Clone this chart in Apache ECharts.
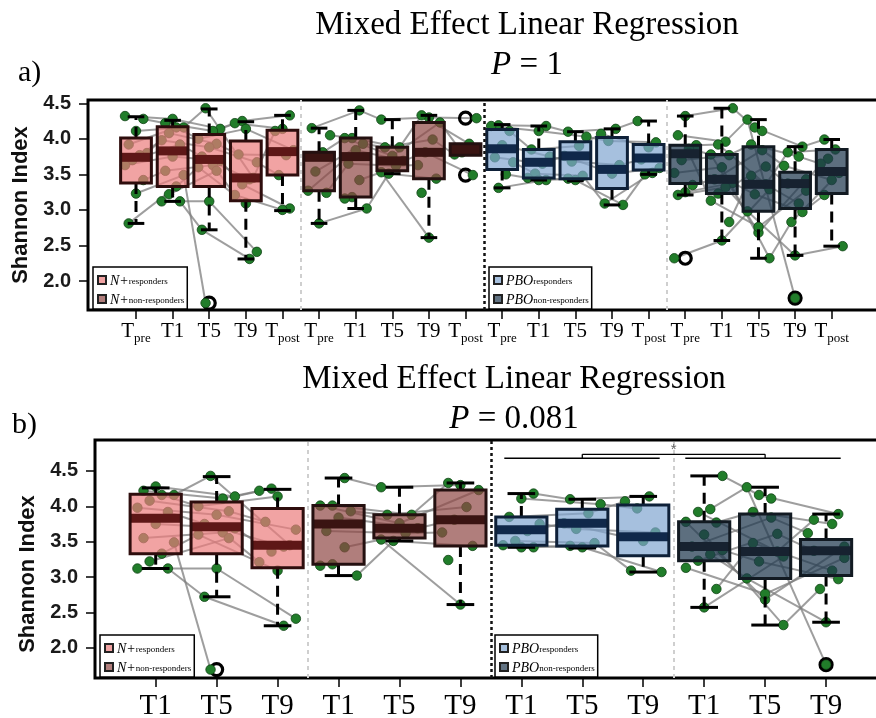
<!DOCTYPE html>
<html><head><meta charset="utf-8">
<script src="https://cdn.jsdelivr.net/npm/echarts@6/dist/echarts.min.js"></script>
<style>html,body{margin:0;padding:0;background:#fff}#c{width:876px;height:718px}</style>
</head><body><div id="c"></div>
<script>
// ---------------- DATA ----------------
const groupNames = ['N+ responders', 'N+ non-responders', 'PBO responders', 'PBO non-responders'];
const timepointsA = ['Tpre', 'T1', 'T5', 'T9', 'Tpost'];
const timepointsB = ['T1', 'T5', 'T9'];
const yTicks = [2.0, 2.5, 3.0, 3.5, 4.0, 4.5];
const titleA = 'P = 1';
const titleB = 'P = 0.081';

// box stats per timepoint (Tpre, T1, T5, T9, Tpost): [lower whisker, Q1, median, Q3, upper whisker]
const boxNResp = [[2.81, 3.38, 3.74, 4.01, 4.31], [3.12, 3.33, 3.83, 4.17, 4.26], [2.72, 3.33, 3.71, 4.06, 4.42], [2.31, 3.13, 3.45, 3.97, 4.24], [2.99, 3.49, 3.82, 4.12, 4.33]];
const boxNNon  = [[2.81, 3.27, 3.74, 3.81, 4.15], [3.02, 3.18, 3.75, 4.01, 4.40], [3.51, 3.55, 3.69, 3.88, 4.27], [2.61, 3.44, 3.81, 4.23, 4.33], [3.77, 3.77, 3.85, 3.93, 3.93]];
const boxPResp = [[3.31, 3.57, 3.86, 4.13, 4.20], [3.42, 3.45, 3.67, 3.85, 4.18], [3.41, 3.44, 3.76, 3.96, 4.10], [3.07, 3.30, 3.57, 4.02, 4.14], [3.50, 3.56, 3.73, 3.92, 4.25]];
const boxPNon  = [[3.21, 3.37, 3.79, 3.91, 4.32], [2.57, 3.23, 3.43, 3.78, 4.43], [2.32, 2.98, 3.36, 3.89, 4.27], [2.36, 3.02, 3.37, 3.53, 3.89], [2.49, 3.23, 3.54, 3.85, 3.99]];

// subject values per timepoint (rows: Tpre, T1, T5, T9, Tpost; same column = same subject)
const ptsNResp = [
  [4.32, 4.28, 4.11, 3.92, 3.80, 3.77, 3.70, 3.63, 3.42, 3.23, 2.81, null, null, null],
  [4.28, 4.22, 4.16, 4.16, 4.08, 3.98, 3.92, 3.75, 3.55, 3.49, 3.33, 3.22, 3.12, 3.12],
  [4.14, 4.11, 4.43, 4.00, 3.93, 3.88, 3.75, 3.69, 3.63, 1.69, 3.60, 3.55, 3.12, 2.72],
  [4.25, 4.22, 3.45, 4.14, 3.78, 3.67, 3.43, 3.36, 3.21, null, 3.09, null, 2.41, 2.31],
  [4.33, 4.14, 4.11, 3.84, 3.77, 3.49, null, 3.02, 3.00, null, null, null, null, null]
];
const ptsNNon = [
  [4.15, 4.05, 3.81, 3.54, 3.27, 3.24, 2.81, null, null, null],
  [4.40, 4.01, 4.01, 3.93, 3.84, 3.65, 3.02, 3.42, 3.18, 3.16],
  [4.27, 3.88, 3.76, 3.88, 3.69, 3.62, 3.51, 3.53, null, null],
  [4.30, 4.33, 4.23, 3.99, 3.81, 3.63, 3.44, 2.61, 3.24, null],
  [4.29, 3.93, 3.81, 3.78, 3.49, null, null, null, null, null]
];
const ptsPResp = [
  [4.19, 4.18, 4.11, 3.91, 3.74, 3.67, 3.50, 3.31, null],
  [4.18, 4.11, 3.85, 3.75, 3.65, 3.51, 3.45, 3.42, 3.42],
  [4.10, 4.03, 3.90, 3.68, 3.76, 3.48, 3.42, 3.44, null],
  [4.14, 3.97, 4.07, 3.63, 3.51, 3.09, 3.07, null, null],
  [4.25, 3.95, 3.88, 3.71, 3.59, 3.52, 3.50, null, null]
];
const ptsPNon = [
  [4.32, 4.05, 3.91, 3.86, 3.70, 3.52, 3.35, 3.25, 3.21, null, 3.80, null, 2.32, null],
  [4.43, 3.96, 3.92, 3.78, 3.77, 3.60, 3.43, 3.38, 3.32, 3.23, 3.13, 2.83, 2.57, null],
  [4.16, 4.27, 3.36, 2.68, 3.92, 2.32, 3.84, 3.22, 2.98, 3.61, 2.76, 3.48, 3.29, 4.11],
  [3.89, 1.76, 3.81, 3.43, 3.75, 2.83, 3.62, 2.97, 2.36, 3.37, 3.27, 3.09, null, null],
  [3.99, null, 3.85, 3.72, 3.65, 3.52, 3.42, 3.21, 2.49, null, null, null, null, null]
];

// outliers per timepoint
const outNResp = [[], [], [1.69], [], []];
const outNNon  = [[], [], [], [], [4.29, 3.49]];
const outPResp = [[], [], [], [], []];
const outPNon  = [[2.32], [], [], [1.76], []];

// ---------------- STYLE ----------------
const boxes = [boxNResp, boxNNon, boxPResp, boxPNon];
const points = [ptsNResp, ptsNNon, ptsPResp, ptsPNon];
const outliers = [outNResp, outNNon, outPResp, outPNon];
const groupStyle = [
  {fill: 'rgba(235,124,124,0.7)', median: '#5e1717', border: '#2e0d0d', legend: '#f1a3a3'},
  {fill: 'rgba(142,71,68,0.7)', median: '#3a1412', border: '#241010', legend: '#b07e7c'},
  {fill: 'rgba(128,165,208,0.7)', median: '#10284a', border: '#0e2038', legend: '#a6c0de'},
  {fill: 'rgba(31,55,78,0.72)', median: '#172230', border: '#121a22', legend: '#627383'}
];
const SERIF = 'Liberation Serif';
const SANS = 'Liberation Sans';
const BOX_W = 0.84;

// deterministic horizontal spread of points around their timepoint
function jit(i, t, g) { return ((i * 5 + t * 3 + g) % 7 - 3) / 3 * 0.3; }

const panels = [
  {times: [0, 1, 2, 3, 4], per: 5},
  {times: [1, 2, 3], per: 3}
];
function posOf(p, g, k) { return g * panels[p].per + k; }

function renderSeg(params, api) {
  const a = api.coord([api.value(0), api.value(1)]);
  const b = api.coord([api.value(2), api.value(3)]);
  return {type: 'line', shape: {x1: a[0], y1: a[1], x2: b[0], y2: b[1]},
    style: {stroke: 'rgba(125,125,125,0.75)', lineWidth: 2}};
}
function renderBracket(params, api) {
  const a = api.coord([api.value(0), api.value(1)]);
  const b = api.coord([api.value(2), api.value(3)]);
  return {type: 'line', shape: {x1: a[0], y1: a[1], x2: b[0], y2: b[1]},
    style: {stroke: '#000', lineWidth: 1.3}};
}
function renderBox(params, api) {
  const x = api.value(0);
  const st = groupStyle[api.value(6)];
  const pLow = api.coord([x, api.value(1)]);
  const pQ1 = api.coord([x, api.value(2)]);
  const pMed = api.coord([x, api.value(3)]);
  const pQ3 = api.coord([x, api.value(4)]);
  const pHigh = api.coord([x, api.value(5)]);
  const bw = api.size([BOX_W, 0])[0];
  const cx = pLow[0], half = bw / 2, cap = bw * 0.27;
  const wStyle = {stroke: '#000', lineWidth: 3, lineDash: [11, 7]};
  const sStyle = {stroke: '#000', lineWidth: 3};
  const ch = [];
  if (pLow[1] - pQ1[1] > 2) {
    ch.push({type: 'line', shape: {x1: cx, y1: pQ1[1], x2: cx, y2: pLow[1]}, style: wStyle});
    ch.push({type: 'line', shape: {x1: cx - cap, y1: pLow[1], x2: cx + cap, y2: pLow[1]}, style: sStyle});
  }
  if (pQ3[1] - pHigh[1] > 2) {
    ch.push({type: 'line', shape: {x1: cx, y1: pQ3[1], x2: cx, y2: pHigh[1]}, style: wStyle});
    ch.push({type: 'line', shape: {x1: cx - cap, y1: pHigh[1], x2: cx + cap, y2: pHigh[1]}, style: sStyle});
  }
  const rect = {x: cx - half, y: pQ3[1], width: bw, height: pQ1[1] - pQ3[1]};
  ch.push({type: 'rect', shape: rect, style: {fill: st.fill}});
  ch.push({type: 'rect', shape: {x: cx - half, y: pMed[1] - 4.5, width: bw, height: 9}, style: {fill: st.median}});
  ch.push({type: 'rect', shape: rect, style: {fill: 'none', stroke: st.border, lineWidth: 3}});
  return {type: 'group', children: ch};
}

const series = [];
panels.forEach((pc, p) => {
  const segs = [], pts = [], outs = [];
  for (let g = 0; g < 4; g++) {
    const P = points[g];
    const n = P[0].length;
    for (let i = 0; i < n; i++) {
      for (let k = 0; k < pc.times.length; k++) {
        const t = pc.times[k];
        const v = P[t][i];
        if (v == null) continue;
        pts.push([posOf(p, g, k) + jit(i, t, g), v]);
        if (k + 1 < pc.times.length) {
          const t2 = pc.times[k + 1];
          const v2 = P[t2][i];
          if (v2 != null) segs.push([posOf(p, g, k) + jit(i, t, g), v, posOf(p, g, k + 1) + jit(i, t2, g), v2]);
        }
      }
    }
    pc.times.forEach((t, k) => outliers[g][t].forEach(v => outs.push([posOf(p, g, k), v])));
  }
  const seps = p === 0 ? [4.5, 9.5, 14.5] : [2.5, 5.5, 8.5];
  series.push({type: 'custom', xAxisIndex: p, yAxisIndex: p, z: 1, silent: true,
    renderItem: renderSeg, encode: {x: [0, 2], y: [1, 3]}, data: segs,
    markLine: {silent: true, symbol: ['none', 'none'], label: {show: false},
      data: seps.map((s, j) => ({xAxis: s, lineStyle: j === 1 ? {color: '#111', width: 2.5, type: [3, 3]} : {color: '#cfcfcf', width: 2, type: [4, 4]}}))}});
  series.push({type: 'scatter', xAxisIndex: p, yAxisIndex: p, z: 2, silent: true, data: outs,
    symbolSize: 12, itemStyle: {color: 'rgba(255,255,255,0)', borderColor: '#000', borderWidth: 3.2, opacity: 1}});
  series.push({type: 'scatter', xAxisIndex: p, yAxisIndex: p, z: 3, silent: true, data: pts,
    symbolSize: 9.5, itemStyle: {color: '#217d2a', borderColor: '#0f4214', borderWidth: 0.8, opacity: 1}});
  for (let g = 0; g < 4; g++) {
    const data = pc.times.map((t, k) => [posOf(p, g, k)].concat(boxes[g][t]).concat([g]));
    series.push({type: 'custom', name: groupNames[g], xAxisIndex: p, yAxisIndex: p, z: 4, silent: true,
      renderItem: renderBox, encode: {x: 0, y: [1, 5]}, data: data,
      itemStyle: {color: groupStyle[g].legend, borderColor: '#222', borderWidth: 1}});
  }
});
// significance bracket in panel b (PBO responders vs PBO non-responders)
series.push({type: 'custom', xAxisIndex: 1, yAxisIndex: 1, z: 5, silent: true,
  renderItem: renderBracket, encode: {x: [0, 2], y: [1, 3]},
  data: [[5.72, 4.68, 8.27, 4.68], [7, 4.68, 7, 4.736], [7, 4.736, 10, 4.736], [10, 4.736, 10, 4.68], [8.69, 4.68, 11.24, 4.68]],
  markPoint: {symbol: 'circle', symbolSize: 0, silent: true, data: [{coord: [8.5, 4.80]}],
    label: {show: true, formatter: '*', color: '#666', fontSize: 15, fontFamily: SANS, position: 'inside'}}});

const subRich = {
  t: {fontFamily: SERIF, fontSize: 21, lineHeight: 24, verticalAlign: 'top', color: '#000'},
  s: {fontFamily: SERIF, fontSize: 13, lineHeight: 13, padding: [17, 0, 0, 0], verticalAlign: 'bottom', color: '#000'}
};
function labelA(v) {
  const lab = timepointsA[Math.round(v) % 5];
  return lab === 'T1' || lab === 'T5' || lab === 'T9' ? '{t|' + lab + '}' : '{t|T}{s|' + lab.slice(1) + '}';
}
function labelB(v) { return '{t|' + timepointsB[Math.round(v) % 3] + '}'; }

function yAxis(idx, min, max, gap, namePad) {
  return {type: 'value', gridIndex: idx, min: min, max: max,
    axisLine: {show: false, onZero: false}, splitLine: {show: false},
    axisTick: {show: true, customValues: yTicks, length: 9, lineStyle: {color: '#000', width: 1.5}},
    axisLabel: {customValues: yTicks, formatter: v => v.toFixed(1), margin: 17, fontFamily: SANS, fontWeight: 'bold', fontSize: 20, color: '#1a1a1a'},
    name: 'Shannon Index', nameLocation: 'middle', nameGap: gap,
    nameTextStyle: {fontFamily: SANS, fontWeight: 'bold', fontSize: 22, color: '#111', padding: namePad}};
}
function legendAt(names, left, top) {
  return {data: names, left: left, top: top, orient: 'vertical', selectedMode: false,
    backgroundColor: '#fff', borderColor: '#000', borderWidth: 1.5, borderRadius: 0,
    padding: [2, 3, 2, 4], itemGap: 0, itemWidth: 8, itemHeight: 8, icon: 'rect',
    formatter: name => {
      const sp = name.indexOf(' ');
      return '{m|' + name.slice(0, sp) + '}{s|' + name.slice(sp + 1) + '}';
    },
    textStyle: {padding: [0, 0, 0, -1], rich: {
      m: {fontFamily: SERIF, fontStyle: 'italic', fontSize: 14, lineHeight: 12, verticalAlign: 'top', color: '#000'},
      s: {fontFamily: SERIF, fontSize: 9, lineHeight: 9, padding: [8, 0, 0, 0], verticalAlign: 'bottom', color: '#000'}
    }}};
}
const titleStyle = {fontFamily: SERIF, fontSize: 33, fontWeight: 'normal', color: '#000', lineHeight: 40,
  rich: {i: {fontFamily: SERIF, fontStyle: 'italic', fontSize: 33, lineHeight: 40, color: '#000'},
         r: {fontFamily: SERIF, fontSize: 33, lineHeight: 40, color: '#000'}}};
function titleText(pt) { return 'Mixed Effect Linear Regression\n{i|P}{r|' + pt.slice(1) + '}'; }

const option = {
  animation: false,
  backgroundColor: '#fff',
  title: [
    {text: titleText(titleA), left: 527, top: 5, padding: 0, textAlign: 'center', textStyle: titleStyle},
    {text: titleText(titleB), left: 514, top: 359, padding: 0, textAlign: 'center', textStyle: titleStyle},
    {text: 'a)', left: 18, top: 58, padding: 0, textStyle: {fontFamily: SERIF, fontSize: 30, fontWeight: 'normal', color: '#000'}},
    {text: 'b)', left: 12, top: 410, padding: 0, textStyle: {fontFamily: SERIF, fontSize: 30, fontWeight: 'normal', color: '#000'}}
  ],
  legend: [
    legendAt(groupNames.slice(0, 2), 93, 267),
    legendAt(groupNames.slice(2, 4), 489, 267),
    legendAt(groupNames.slice(0, 2), 100, 635),
    legendAt(groupNames.slice(2, 4), 495, 635)
  ],
  grid: [
    {left: 88, top: 100, right: -4, height: 210, show: true, borderColor: '#000', borderWidth: 3, backgroundColor: 'transparent', outerBoundsMode: 'none', containLabel: false},
    {left: 95, top: 440, right: -4, height: 238, show: true, borderColor: '#000', borderWidth: 3, backgroundColor: 'transparent', outerBoundsMode: 'none', containLabel: false}
  ],
  xAxis: [
    {type: 'value', gridIndex: 0, min: -1.311, max: 20.319, axisLine: {show: false, onZero: false}, splitLine: {show: false},
      axisTick: {show: true, customValues: [...Array(20).keys()], length: 9, lineStyle: {color: '#000', width: 1.5}},
      axisLabel: {customValues: [...Array(20).keys()], formatter: labelA, margin: 11, rich: subRich}},
    {type: 'value', gridIndex: 1, min: -0.996, max: 11.885, axisLine: {show: false, onZero: false}, splitLine: {show: false},
      axisTick: {show: true, customValues: [...Array(12).keys()], length: 9, lineStyle: {color: '#000', width: 1.5}},
      axisLabel: {customValues: [...Array(12).keys()], formatter: labelB, margin: 13,
        rich: {t: {fontFamily: SERIF, fontSize: 29, lineHeight: 30, color: '#000'}}}}
  ],
  yAxis: [
    yAxis(0, 1.592, 4.546, 55, [0, 0, 0, 0]),
    yAxis(1, 1.571, 4.938, 56, [0, 30, 0, 0])
  ],
  series: series
};
const chart = echarts.init(document.getElementById('c'), null, {renderer: 'canvas'});
chart.setOption(option);
</script>
</body></html>
